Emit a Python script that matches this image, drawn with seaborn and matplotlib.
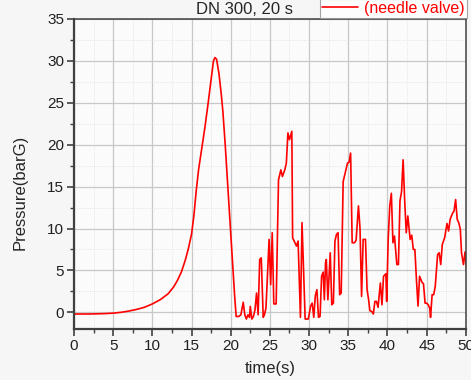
import matplotlib
matplotlib.use("Agg")
import matplotlib.pyplot as plt
import pandas as pd
import seaborn as sns
from matplotlib.ticker import MultipleLocator

time_s = [
    0, 2, 4, 5, 6, 7, 8, 9, 10, 11, 12, 12.7, 13.2, 13.7, 14.2, 14.6, 15.0,
    15.3, 15.6, 15.9, 16.3, 16.7, 17.1, 17.5, 17.8, 18.0, 18.2, 18.5, 18.8,
    19.0, 19.3, 19.6, 19.9, 20.2, 20.5, 20.7, 21.0, 21.3, 21.6, 21.8, 22.0,
    22.2, 22.4, 22.5, 22.7, 22.9, 23.1, 23.3, 23.5, 23.7, 23.9, 24.15, 24.3,
    24.5, 24.9, 25.1, 25.3, 25.5, 25.8, 26.1, 26.4, 26.6, 26.9, 27.1, 27.3,
    27.5, 27.8, 27.9, 28.2, 28.4, 28.6, 28.9, 29.1, 29.5, 29.9, 30.2, 30.4,
    30.6, 30.8, 31.0, 31.2, 31.4, 31.6, 31.8, 31.95, 32.1, 32.2, 32.4, 32.7,
    32.9, 33.1, 33.3, 33.5, 33.7, 33.9, 34.1, 34.35, 34.6, 34.9, 35.1, 35.3,
    35.5, 35.8, 36.0, 36.3, 36.5, 36.7, 36.9, 37.2, 37.4, 37.6, 37.75, 38.0,
    38.2, 38.4, 38.6, 38.8, 39.1, 39.3, 39.5, 39.8, 39.9, 40.1, 40.3, 40.5,
    40.7, 40.9, 41.2, 41.4, 41.6, 41.8, 42.0, 42.2, 42.4, 42.6, 42.9, 43.1,
    43.3, 43.5, 43.7, 43.9, 44.1, 44.4, 44.6, 44.8, 45.0, 45.2, 45.4, 45.5,
    45.7, 45.9, 46.1, 46.4, 46.6, 46.8, 47.0, 47.3, 47.6, 47.8, 48.0, 48.3,
    48.5, 48.7, 48.9, 49.1, 49.3, 49.45, 49.7, 49.9, 50.1,
]
pressure_barg = [
    -0.2, -0.2, -0.15, -0.1, 0.0, 0.15, 0.35, 0.6, 1.0, 1.5, 2.2, 3.0, 3.8,
    4.8, 6.2, 7.6, 9.3, 11.5, 14.5, 17.0, 19.5, 22.0, 24.8, 27.8, 30.0, 30.4,
    30.2, 28.5, 26.0, 24.0, 20.0, 15.5, 11.0, 6.5, 2.0, -0.5, -0.5, -0.3, 1.2,
    -0.3, -0.8, -0.3, -0.6, 0.7, -0.8, -0.5, 0.3, 2.3, -0.3, 6.3, 6.5, -0.6,
    -0.3, 0.5, 8.7, 3.3, 9.5, 1.0, 1.0, 15.8, 17.0, 16.2, 17.0, 17.8, 21.4,
    20.6, 21.6, 8.9, 8.3, 7.9, 8.5, -0.6, 10.7, -0.8, -0.8, 0.75, 1.1, -0.6,
    2.0, 2.7, -0.6, -0.5, 4.3, 4.8, 1.5, 5.9, 6.3, 1.5, 7.1, 0.9, 1.1, 8.5,
    9.3, 9.5, 2.1, 2.3, 15.6, 16.6, 17.8, 17.9, 19.0, 8.3, 8.3, 8.6, 12.7,
    10.0, 1.9, 8.7, 8.7, 2.7, 1.5, 0.2, 0.1, -0.2, 1.3, 1.3, 0.6, 3.5, 0.9,
    4.3, 4.6, 1.3, 8.9, 12.7, 14.2, 8.3, 9.1, 5.7, 5.7, 13.3, 14.4, 18.2,
    13.3, 9.5, 11.5, 8.7, 9.2, 7.5, 7.5, 3.9, 0.75, 4.3, 3.6, 3.4, 1.1, 1.1,
    0.9, 0.5, -0.6, 2.1, 2.1, 3.1, 6.9, 7.1, 5.7, 8.1, 8.9, 10.6, 9.7, 11.1,
    11.8, 12.1, 13.45, 11.1, 10.7, 9.9, 7.1, 5.7, 7.2, 5.1,
]
series_label = "(needle valve)"
title_text = "DN 300, 20 s"


def set_style() -> None:
    sns.set_theme(style="ticks")
    plt.rcParams.update({
        "font.family": ["Liberation Sans", "DejaVu Sans"],
        "font.size": 11,
        "figure.facecolor": "#f6f6f6",
    })


def build_figure(df: pd.DataFrame) -> plt.Figure:
    fig = plt.figure(figsize=(4.71, 3.8), dpi=100)
    ax = fig.add_axes([0.157, 0.134, 0.832, 0.816])
    ax.set_facecolor("#fbfbfb")

    sns.lineplot(data=df, x="time", y="pressure", ax=ax, color="#ff0000",
                 linewidth=1.2, estimator=None, label=series_label)

    ax.set_xlim(0, 50)
    ax.set_ylim(-2, 35)
    ax.xaxis.set_major_locator(MultipleLocator(5))
    ax.xaxis.set_minor_locator(MultipleLocator(2.5))
    ax.yaxis.set_major_locator(MultipleLocator(5))
    ax.yaxis.set_minor_locator(MultipleLocator(2.5))

    ax.grid(which="major", color="#c8c8c8", linewidth=0.9)
    ax.grid(which="minor", color="#dedede", linewidth=0.6, linestyle=":")
    ax.set_axisbelow(True)

    ax.tick_params(which="major", direction="out", length=5, width=1.2,
                   color="#404040", labelcolor="#202020", labelsize=11, pad=2)
    ax.tick_params(which="minor", direction="out", length=3, width=1.0,
                   color="#404040")
    for side in ("left", "bottom"):
        ax.spines[side].set_color("#404040")
        ax.spines[side].set_linewidth(1.6)
    for side in ("top", "right"):
        ax.spines[side].set_color("#404040")
        ax.spines[side].set_linewidth(1.1)

    ax.set_xlabel("time(s)", fontsize=12, labelpad=6)
    ax.set_ylabel("Pressure(barG)", fontsize=12)
    ax.yaxis.set_label_coords(-0.117, 0.44)

    ax.text(0.436, 1.005, title_text, transform=ax.transAxes, ha="center",
            va="bottom", fontsize=12)

    leg = ax.legend(loc="lower right", bbox_to_anchor=(1.002, 1.004),
                    borderaxespad=0, frameon=True, fancybox=False,
                    handlelength=2.3, fontsize=11.5, borderpad=0.12,
                    handletextpad=0.35)
    leg.get_frame().set_edgecolor("#909090")
    leg.get_frame().set_facecolor("#ffffff")
    leg.get_frame().set_linewidth(0.8)
    for txt in leg.get_texts():
        txt.set_color("#ff0000")
    return fig


def main() -> None:
    set_style()
    df = pd.DataFrame({"time": time_s, "pressure": pressure_barg})
    fig = build_figure(df)
    fig.savefig("out.png", dpi=100)


if __name__ == "__main__":
    main()
